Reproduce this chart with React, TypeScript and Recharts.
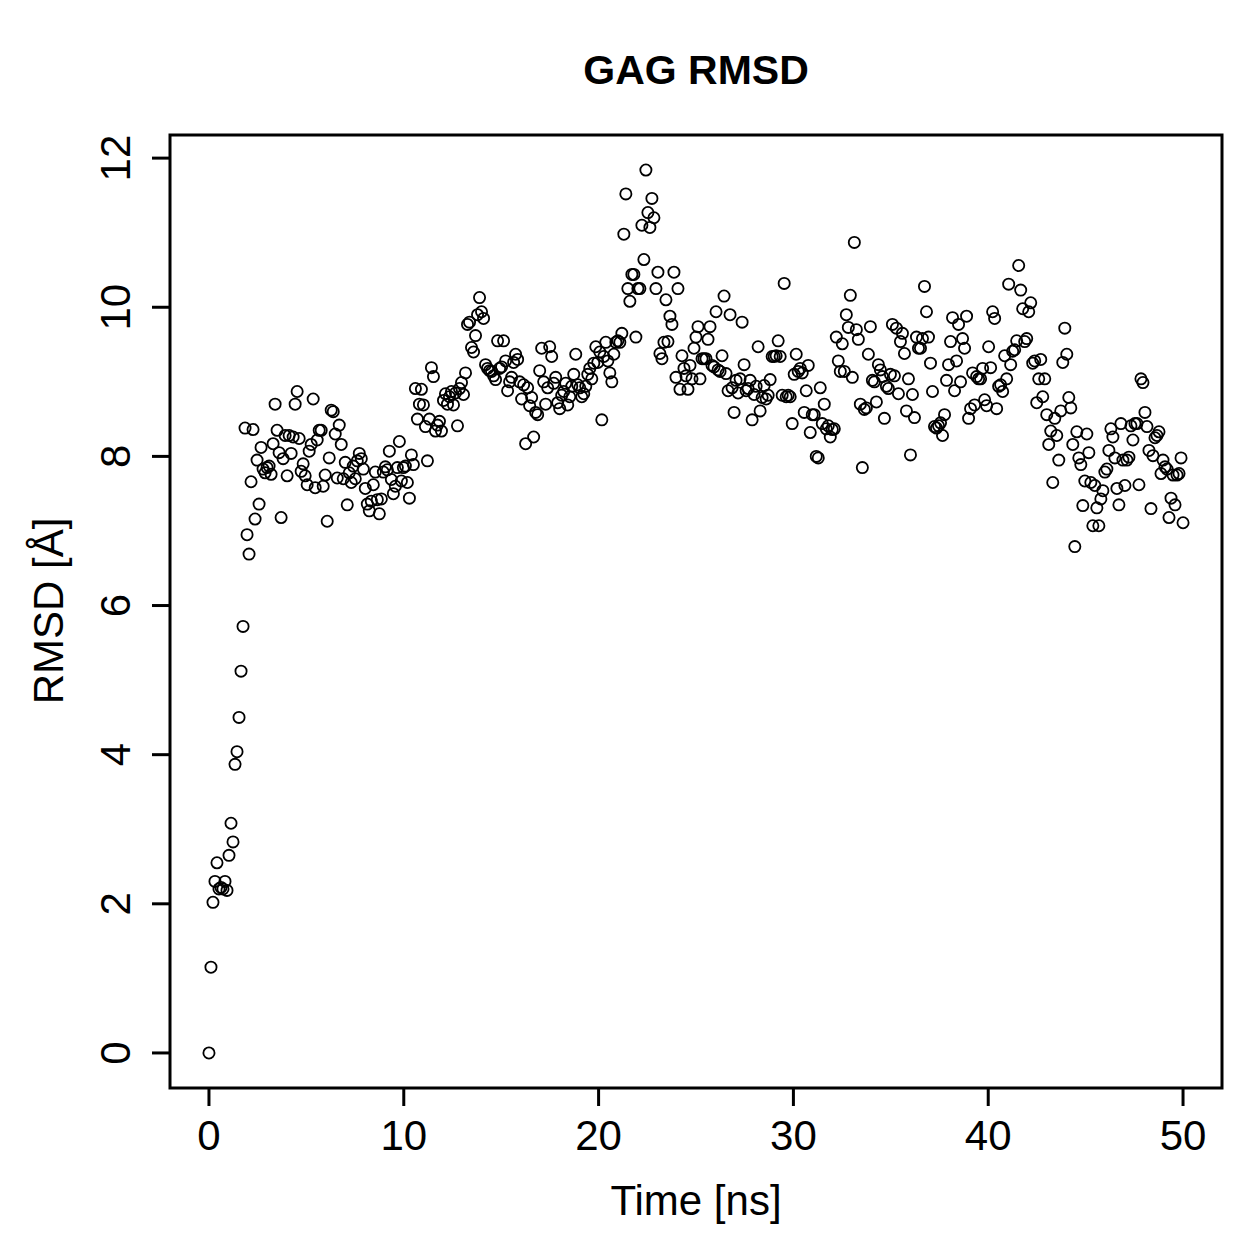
import React from "react";
import { ScatterChart, Scatter, XAxis, YAxis, ReferenceArea } from "recharts";

const rmsd: number[] = [
  0, 1.15, 2.02, 2.3, 2.55, 2.2, 2.22, 2.2, 2.3, 2.18, 2.65, 3.08, 2.83, 3.87, 4.04, 4.5, 5.12, 5.72, 8.38, 6.95, 6.69,
  7.66, 8.36, 7.16, 7.95, 7.36, 8.12, 7.83, 7.78, 7.85, 7.87, 7.76, 8.17, 8.7, 8.35, 8.05, 7.18, 7.97, 8.28, 7.74, 8.28,
  8.04, 8.26, 8.7, 8.87, 8.24, 7.8, 7.9, 7.74, 7.62, 8.07, 8.16, 8.77, 7.58, 8.22, 8.35, 8.35, 7.6, 7.75, 7.13, 7.98,
  8.62, 8.6, 8.3, 7.71, 8.42, 8.16, 7.7, 7.92, 7.35, 7.78, 7.65, 7.87, 7.7, 7.94, 8.04, 7.97, 7.83, 7.57, 7.36, 7.27,
  7.4, 7.62, 7.79, 7.42, 7.23, 7.43, 7.79, 7.86, 7.82, 8.07, 7.69, 7.5, 7.6, 7.85, 8.2, 7.67, 7.85, 7.87, 7.65, 7.44,
  8.02, 7.89, 8.91, 8.5, 8.7, 8.9, 8.69, 8.4, 7.94, 8.5, 9.19, 9.07, 8.34, 8.42, 8.47, 8.34, 8.75, 8.84, 8.7, 8.8,
  8.87, 8.69, 8.85, 8.41, 8.91, 8.99, 8.83, 9.12, 9.77, 9.8, 9.46, 9.4, 9.62, 9.9, 10.13, 9.94, 9.85, 9.23, 9.18, 9.15,
  9.14, 9.08, 9.03, 9.55, 9.18, 9.2, 9.55, 9.28, 8.88, 9.0, 9.06, 9.26, 9.37, 9.3, 9.0, 8.77, 8.96, 8.17, 8.92, 8.68,
  8.79, 8.26, 8.59, 8.56, 9.15, 9.45, 9.0, 8.7, 8.92, 9.47, 9.34, 8.98, 9.06, 8.72, 8.64, 8.82, 8.87, 8.98, 8.69, 8.8,
  8.94, 9.1, 9.37, 8.96, 8.92, 8.8, 8.84, 8.94, 9.1, 9.18, 9.04, 9.25, 9.47, 9.26, 9.4, 8.49, 9.34, 9.53, 9.28, 9.12,
  9.0, 9.37, 9.53, 9.55, 9.53, 9.65, 10.98, 11.52, 10.25, 10.08, 10.44, 10.44, 9.6, 10.25, 10.25, 11.1, 10.64, 11.84, 11.27, 11.07,
  11.46, 11.2, 10.25, 10.47, 9.38, 9.31, 9.53, 10.1, 9.54, 9.88, 9.77, 10.47, 9.06, 10.25, 8.9, 9.35, 9.18, 9.08, 8.9, 9.22,
  9.04, 9.45, 9.6, 9.74, 9.04, 9.31, 9.31, 9.31, 9.57, 9.74, 9.22, 9.2, 9.94, 9.16, 9.14, 9.35, 10.15, 9.11, 8.88, 9.9,
  8.92, 8.59, 9.02, 8.85, 9.04, 9.8, 9.23, 8.88, 8.91, 9.02, 8.49, 8.83, 8.94, 9.47, 8.61, 8.79, 8.95, 8.77, 8.82, 9.03,
  9.34, 9.34, 9.35, 9.55, 9.34, 8.82, 10.32, 8.8, 8.82, 8.8, 8.44, 9.1, 9.37, 9.14, 9.18, 9.12, 8.59, 8.88, 9.22, 8.32,
  8.56, 8.56, 8.0, 7.98, 8.92, 8.44, 8.7, 8.37, 8.41, 8.26, 8.36, 8.37, 9.6, 9.28, 9.14, 9.51, 9.14, 9.9, 9.73, 10.16,
  9.06, 10.87, 9.7, 9.57, 8.7, 7.85, 8.63, 8.65, 9.37, 9.74, 9.02, 9.0, 8.73, 9.23, 9.16, 9.07, 8.51, 8.94, 8.91, 9.1,
  9.77, 9.08, 9.72, 8.84, 9.54, 9.65, 9.38, 8.61, 9.04, 8.02, 8.83, 8.52, 9.6, 9.45, 9.45, 9.58, 10.28, 9.94, 9.6, 9.25,
  8.87, 8.4, 8.38, 8.41, 8.45, 8.28, 8.56, 9.02, 9.23, 9.54, 9.86, 8.88, 9.28, 9.77, 9.0, 9.58, 9.45, 9.88, 8.51, 8.64,
  9.12, 8.69, 9.07, 9.04, 9.04, 9.18, 8.76, 8.68, 9.47, 9.19, 9.94, 9.85, 8.64, 8.94, 8.96, 8.87, 9.35, 9.04, 10.31, 9.23,
  9.41, 9.43, 9.55, 10.56, 10.23, 9.98, 9.54, 9.58, 9.94, 10.06, 9.25, 9.28, 8.72, 9.04, 9.3, 8.8, 9.04, 8.56, 8.16, 8.34,
  7.65, 8.51, 8.28, 7.95, 8.61, 9.26, 9.72, 9.37, 8.79, 8.65, 8.16, 6.79, 8.33, 7.98, 7.89, 7.34, 7.67, 8.3, 8.05, 7.65,
  7.07, 7.61, 7.31, 7.07, 7.43, 7.54, 7.79, 7.83, 8.08, 8.37, 8.26, 7.98, 7.57, 7.35, 8.44, 7.95, 7.61, 7.95, 7.99, 8.41,
  8.22, 8.44, 8.44, 7.62, 9.04, 8.99, 8.59, 8.4, 8.08, 7.3, 8.01, 8.25, 8.28, 8.33, 7.77, 7.95, 7.86, 7.83, 7.18, 7.44,
  7.75, 7.35, 7.75, 7.77, 7.98, 7.11,
];

const T_END = 50; // ns, simulation length
const xTicks = [0, 10, 20, 30, 40, 50];
const yTicks = [0, 2, 4, 6, 8, 10, 12];
const title = "GAG RMSD";
const xLabel = "Time [ns]";
const yLabel = "RMSD [Å]";

const data = rmsd.map((r, i) => ({ t: (i * T_END) / (rmsd.length - 1), r }));

const W = 1259;
const H = 1259;
const FONT = '"Liberation Sans", Arial, Helvetica, sans-serif';
const FS = 42;
const X_DOMAIN: [number, number] = [-2, 52];
const Y_DOMAIN: [number, number] = [-0.47, 12.31];

const Ring = (props: any) => {
  const { cx, cy } = props;
  if (cx == null || cy == null) return null;
  return <circle cx={cx} cy={cy} r={5.6} fill="none" stroke="#000" strokeWidth={1.8} />;
};

const XTick = (props: any) => {
  const { x, y, payload } = props;
  return (
    <text x={x} y={y + 44} textAnchor="middle" fontSize={FS} fontFamily={FONT} fill="#000">
      {payload.value}
    </text>
  );
};

const YTick = (props: any) => {
  const { x, y, payload } = props;
  const bx = x - 22;
  return (
    <text
      x={bx}
      y={y}
      transform={`rotate(-90, ${bx}, ${y})`}
      textAnchor="middle"
      fontSize={FS}
      fontFamily={FONT}
      fill="#000"
    >
      {payload.value}
    </text>
  );
};

export default function App() {
  return (
    <div style={{ position: "absolute", left: 0, top: 0, width: W, height: H, background: "#fff" }}>
      <ScatterChart width={W} height={H} margin={{ top: 135, right: 37, left: 0, bottom: 0 }}>
        <XAxis
          type="number"
          dataKey="t"
          domain={X_DOMAIN}
          ticks={xTicks}
          height={171}
          axisLine={false}
          tickLine={{ stroke: "#000", strokeWidth: 3 }}
          tickSize={18}
          tickMargin={0}
          tick={<XTick />}
          allowDataOverflow
          interval={0}
        />
        <YAxis
          type="number"
          dataKey="r"
          domain={Y_DOMAIN}
          ticks={yTicks}
          width={170}
          axisLine={false}
          tickLine={{ stroke: "#000", strokeWidth: 3 }}
          tickSize={18}
          tickMargin={0}
          tick={<YTick />}
          allowDataOverflow
          interval={0}
        />
        <ReferenceArea
          x1={X_DOMAIN[0]}
          x2={X_DOMAIN[1]}
          y1={Y_DOMAIN[0]}
          y2={Y_DOMAIN[1]}
          fill="none"
          fillOpacity={0}
          stroke="#000"
          strokeWidth={3}
          ifOverflow="visible"
        />
        <Scatter data={data} shape={<Ring />} isAnimationActive={false} />
      </ScatterChart>
      <svg
        width={W}
        height={H}
        style={{ position: "absolute", left: 0, top: 0, pointerEvents: "none" }}
      >
        <text x={696} y={84} textAnchor="middle" fontSize={41} fontWeight="bold" fontFamily={FONT} fill="#000">
          {title}
        </text>
        <text x={696} y={1215} textAnchor="middle" fontSize={FS} fontFamily={FONT} fill="#000">
          {xLabel}
        </text>
        <text
          x={63}
          y={611}
          transform="rotate(-90, 63, 611)"
          textAnchor="middle"
          fontSize={FS}
          fontFamily={FONT}
          fill="#000"
        >
          {yLabel}
        </text>
      </svg>
    </div>
  );
}
